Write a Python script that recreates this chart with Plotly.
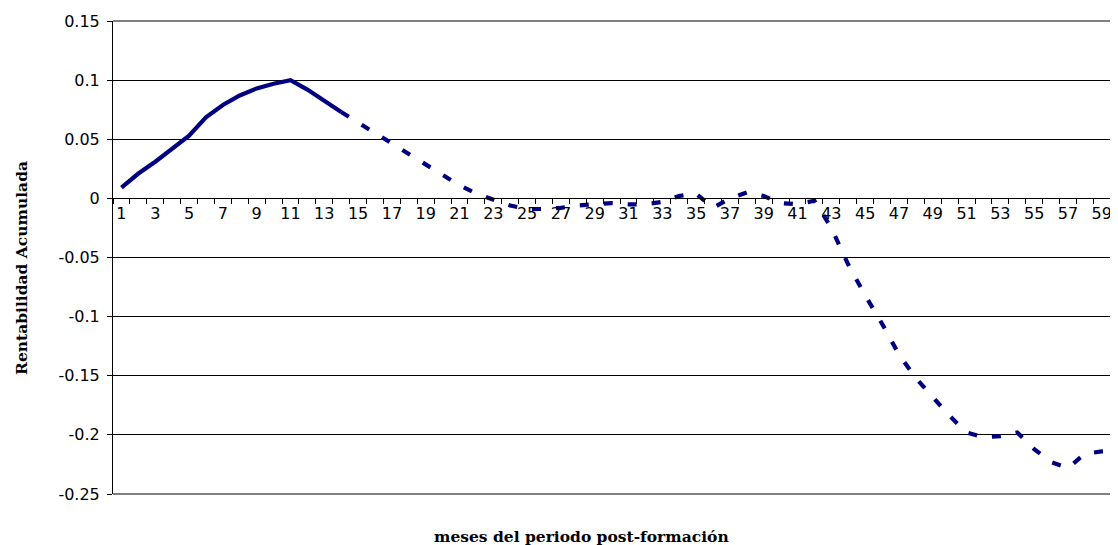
import plotly.graph_objects as go

months = list(range(1, 61))
rentabilidad = [
    0.009, 0.021, 0.031, 0.042, 0.053, 0.0685, 0.079, 0.087, 0.093, 0.097,
    0.100, 0.092, 0.083, 0.073, 0.064, 0.055, 0.047, 0.038, 0.029, 0.019,
    0.011, 0.004, -0.001, -0.006, -0.009, -0.009, -0.008, -0.006, -0.005, -0.004,
    -0.005, -0.005, -0.003, 0.002, 0.004, -0.008, 0.000, 0.005, 0.002, -0.004,
    -0.005, -0.002, -0.025, -0.056, -0.082, -0.106, -0.132, -0.152, -0.168, -0.184,
    -0.198, -0.202, -0.201, -0.198, -0.212, -0.223, -0.228, -0.216, -0.214, -0.213,
]
solid_end = 14  # solid up to month 14, dashed afterwards
x_ticks = list(range(1, 61, 2))
y_ticks = [-0.25, -0.2, -0.15, -0.1, -0.05, 0, 0.05, 0.1, 0.15]
y_tick_text = ["-0.25", "-0.2", "-0.15", "-0.1", "-0.05", "0", "0.05", "0.1", "0.15"]

LINE = "#000080"
TICKFONT = dict(family="DejaVu Sans, Arial", size=16, color="#000")
TITLEFONT = dict(family="DejaVu Serif", size=15.5, color="#000")

# page body has an 8px default margin: offset the figure accordingly
OFF = 8
PLOT_L, PLOT_T, PLOT_B = 113, 21, 494
W, H = 1118 - OFF, 545 - OFF

fig = go.Figure()
fig.add_trace(go.Scatter(
    x=months[:solid_end], y=rentabilidad[:solid_end], mode="lines",
    line=dict(color=LINE, width=4.2), showlegend=False, hoverinfo="skip"))
fig.add_trace(go.Scatter(
    x=months[solid_end - 1:], y=rentabilidad[solid_end - 1:], mode="lines",
    line=dict(color=LINE, width=4.2, dash="9px,15px"), showlegend=False, hoverinfo="skip"))

ymin, ymax = -0.25, 0.15
zero_pos = (0 - ymin) / (ymax - ymin)
plot_w = 1118 - PLOT_L
plot_h = PLOT_B - PLOT_T

fig.update_layout(
    width=W, height=H,
    margin=dict(l=PLOT_L - OFF, r=0, t=PLOT_T - OFF, b=545 - PLOT_B),
    paper_bgcolor="white", plot_bgcolor="white",
    xaxis=dict(
        range=[0.5, 59.96], tickvals=x_ticks, ticktext=[str(v) for v in x_ticks],
        ticks="", showgrid=False, zeroline=False,
        showline=True, linecolor="#000", linewidth=1,
        anchor="free", position=zero_pos, tickfont=TICKFONT,
        minor=dict(ticks="outside", tick0=0.5, dtick=1, ticklen=5,
                   tickcolor="#000", showgrid=False),
    ),
    yaxis=dict(
        range=[ymin, ymax], tickvals=y_ticks, ticktext=y_tick_text,
        ticks="outside", ticklen=5, tickcolor="#000", ticklabelstandoff=4,
        showgrid=True, gridcolor="#000", gridwidth=1, zeroline=False,
        showline=True, linecolor="#000", linewidth=1, tickfont=TICKFONT,
    ),
    shapes=[
        dict(type="line", xref="paper", yref="paper", x0=0, x1=1, y0=0, y1=0,
             line=dict(color="#000", width=1), layer="below"),
        dict(type="line", xref="paper", yref="paper", x0=0, x1=1, y0=1, y1=1,
             line=dict(color="#000", width=1), layer="below"),
    ],
    annotations=[
        dict(text="<b>Rentabilidad Acumulada</b>", xref="paper", yref="paper",
             x=(21 - PLOT_L) / plot_w, y=(PLOT_B - 268) / plot_h, textangle=-90,
             showarrow=False, font=TITLEFONT, xanchor="center", yanchor="middle"),
        dict(text="<b>meses del periodo post-formación</b>", xref="paper", yref="paper",
             x=(581 - PLOT_L) / plot_w, y=-(536 - PLOT_B) / plot_h,
             showarrow=False, font=TITLEFONT, xanchor="center", yanchor="middle"),
    ],
)

fig.write_html("out.html")
